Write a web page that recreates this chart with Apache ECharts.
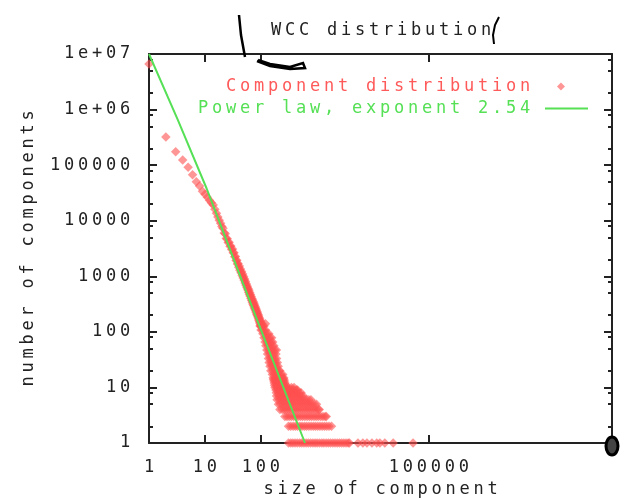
<!DOCTYPE html>
<html><head><meta charset="utf-8">
<script src="https://cdn.jsdelivr.net/npm/echarts@6/dist/echarts.min.js"></script>
<style>html,body{margin:0;padding:0;background:#fff}#c{width:626px;height:498px}</style>
</head><body><div id="c"></div>
<script>
// ---- data ----
// counts for component sizes 1..100 (index = size - 1)
const headCounts = [
  6600000, 320000, 175000, 124000, 92000, 67000, 50000, 42000, 34000, 30000,
  26400, 23400, 21000, 19100, 16000, 13600, 11700, 10200, 9000, 7900,
  7300, 6000, 5800, 4800, 4750, 4050, 4080, 3480, 3520, 3020,
  3090, 2640, 2650, 2250, 2260, 1930, 1950, 1660, 1700, 1450,
  1530, 1290, 1350, 1160, 1220, 1030, 1100, 935, 990, 845,
  895, 755, 805, 690, 730, 630, 665, 570, 605, 515,
  560, 470, 512, 437, 470, 398, 435, 368, 400, 338,
  374, 314, 348, 294, 326, 272, 304, 257, 284, 239,
  265, 224, 247, 208, 232, 196, 218, 186, 206, 172,
  192, 160, 180, 151, 170, 142, 160, 133, 151, 125
];
// larger components: each count level with the sizes seen at that level
const rowCounts = [1, 2, 3, 4, 5, 6, 7, 8, 9, 10, 11, 12, 13, 14, 15, 17, 20, 24, 28, 33, 40, 47, 56, 66, 78, 92, 108, 127, 140];
const rowSizes = [
  [310, 340, 370, 405, 445, 490, 535, 585, 640, 700, 770, 845, 925, 1010, 1110, 1220, 1330, 1460, 1600, 1750, 1920, 2100, 2300, 2520, 2760, 3020, 3300, 3600, 3800, 5400, 6600, 7800, 9600, 11700, 13300, 16300, 23000, 52000],
  [310, 340, 375, 410, 450, 495, 540, 595, 650, 715, 785, 860, 940, 1030, 1130, 1240, 1360, 1490, 1640, 1820],
  [267, 292, 320, 350, 385, 420, 460, 505, 555, 610, 670, 735, 805, 885, 970, 1060, 1170, 1280, 1400, 1470],
  [218, 240, 262, 288, 315, 345, 380, 415, 455, 500, 550, 605, 665, 730, 800, 880, 965, 1060, 1100],
  [205, 225, 247, 271, 297, 326, 358, 393, 431, 473, 520, 570, 625, 686, 753, 826, 906, 980],
  [194, 213, 234, 257, 282, 310, 340, 373, 410, 450, 494, 542, 595, 653, 717, 780],
  [190, 209, 229, 252, 276, 303, 333, 365, 401, 440, 483, 530, 570],
  [188, 206, 226, 248, 272, 299, 328, 360, 395, 434, 476, 520],
  [185, 203, 223, 245, 269, 295, 324, 356, 390, 428, 450],
  [178, 195, 214, 235, 258, 282, 310, 350, 390],
  [175, 192, 211, 232, 255, 275],
  [172, 189, 207, 227, 250, 268],
  [170, 186, 204, 224, 246, 262],
  [167, 183, 201, 220, 240, 258],
  [165, 180, 198, 216, 236, 255],
  [160, 175, 192, 210, 228, 245],
  [150, 163, 178, 194, 210, 217],
  [145, 158, 172, 187, 203],
  [140, 152, 165, 180, 196],
  [136, 148, 161, 175, 190],
  [131, 143, 156, 170, 185],
  [127, 138, 150, 163, 177, 189],
  [122, 133, 145, 158, 170],
  [118, 128, 140, 152, 162],
  [113, 123, 134, 145, 155],
  [108, 118, 128, 138],
  [100, 106, 113, 120],
  [96, 101, 107, 113],
  [104, 120]
];
// fitted power-law line as drawn
const powerSizes  = [1, 3.3, 10.7, 36.8, 73, 611];
const powerCounts = [10000000, 640000, 38000, 1480, 246, 1];

const xTickValues = [1, 10, 100, 100000];
const xTickLabels = ['1', '10', '100', '100000'];
const yTickValues = [1, 10, 100, 1000, 10000, 100000, 1000000, 10000000];
const yTickLabels = ['1', '10', '100', '1000', '10000', '100000', '1e+06', '1e+07'];
const yMinorTickValues = [2,5,8,20,50,80,200,500,800,2000,5000,8000,20000,50000,80000,200000,500000,800000,2000000,5000000,8000000];

const titleText = 'WCC distribution';
const xName = 'size of component';
const yName = 'number of components';
const seriesNames = ['Component distribution', 'Power law, exponent 2.54'];

// ---- styling helpers ----
const FONT = 'DejaVu Sans Mono';
const CELL = 14;
function cell(color) {
  return { width: CELL, align: 'center', fontFamily: FONT, fontSize: 17, fontWeight: 'normal', lineHeight: 17, color: color };
}
function mono(str, st) {
  return str.split('').map(ch => '{' + st + '|' + (ch === ' ' ? '\u00a0' : ch) + '}').join('');
}
const INK = '#222';
const RED = '#ff5050';
const GREEN = '#55e055';
const richBlack = { a: cell(INK) };

let scatterData = headCounts.map((c, i) => [i + 1, c]);
rowCounts.forEach((c, k) => { rowSizes[k].forEach(s => scatterData.push([s, c])); });
const lineData = powerSizes.map((s, i) => [s, powerCounts[i]]);

const axisLineStyle = { color: INK, width: 2 };
function xAx(pos, withLabels) {
  return {
    type: 'log', logBase: 10, min: 1, max: 186000000, position: pos,
    axisLine: { show: true, onZero: false, lineStyle: axisLineStyle },
    axisTick: { show: true, inside: true, length: 8, customValues: xTickValues, lineStyle: { color: INK, width: 2 } },
    axisLabel: withLabels ? {
      show: true, customValues: xTickValues, margin: 16,
      formatter: v => mono(xTickLabels[xTickValues.indexOf(v)] || '', 'a'), rich: richBlack
    } : { show: false },
    splitLine: { show: false }, minorTick: { show: false },
    name: withLabels ? mono(xName, 'a') : '', nameLocation: 'middle', nameGap: 37,
    nameTextStyle: { rich: richBlack }
  };
}
function yAx(pos, minor, withLabels) {
  return {
    type: 'log', logBase: 10, min: 1, max: 10000000, position: pos,
    axisLine: { show: !minor, onZero: false, lineStyle: axisLineStyle },
    axisTick: { show: true, inside: true, length: minor ? 4 : 8,
      customValues: minor ? yMinorTickValues : yTickValues, lineStyle: { color: INK, width: 2 } },
    axisLabel: withLabels ? {
      show: true, customValues: yTickValues, margin: 17,
      formatter: v => {
        let k = -1;
        yTickValues.forEach((t, i) => { if (Math.abs(Math.log10(t) - Math.log10(v)) < 1e-6) k = i; });
        return mono(k >= 0 ? yTickLabels[k] : '', 'a');
      }, rich: richBlack
    } : { show: false },
    splitLine: { show: false }, minorTick: { show: false },
    name: withLabels ? mono(yName, 'a') : '', nameLocation: 'middle', nameGap: 107,
    nameTextStyle: { rich: richBlack }
  };
}

const chart = echarts.init(document.getElementById('c'), null, { renderer: 'canvas' });
chart.setOption({
  animation: false,
  backgroundColor: '#fff',
  title: {
    text: mono(titleText, 't'), left: 269, top: 22, padding: 0,
    textStyle: { fontWeight: 'normal', rich: { t: cell(INK) } }
  },
  legend: {
    orient: 'vertical', align: 'right', right: 38, top: 78, padding: 0,
    itemGap: 5, itemWidth: 43, itemHeight: 8,
    data: [
      { name: seriesNames[0], icon: 'path://M4,0L8,4L4,8L0,4Z M19,4L19.01,4.01' },
      { name: seriesNames[1], icon: 'path://M0,0L43,0L43,2L0,2Z' }
    ],
    formatter: name => mono(name, name === seriesNames[0] ? 'r' : 'g') + '{sp|\u00a0}',
    textStyle: { rich: { r: cell('#ff5a5a'), g: cell(GREEN), sp: { width: 8 } } }
  },
  grid: { left: 149, right: 14, top: 54, bottom: 55, containLabel: false, outerBoundsMode: 'none' },
  xAxis: [xAx('bottom', true), xAx('top', false)],
  yAxis: [yAx('left', false, true), yAx('right', false, false), yAx('left', true, false), yAx('right', true, false)],
  series: [
    {
      name: seriesNames[0], type: 'scatter', xAxisIndex: 0, yAxisIndex: 0,
      symbol: 'diamond', symbolSize: 9.5, clip: false,
      itemStyle: { color: RED, opacity: 0.6 },
      data: scatterData, z: 3
    },
    {
      name: seriesNames[1], type: 'line', xAxisIndex: 0, yAxisIndex: 0,
      symbol: 'none', showSymbol: false, clip: false,
      lineStyle: { color: GREEN, width: 2 }, itemStyle: { color: GREEN },
      data: lineData, z: 4
    }
  ],
  graphic: [
    { type: 'polyline', shape: { points: [[239, 15], [241, 35], [245, 57]] }, style: { stroke: '#000', lineWidth: 2.5, fill: null }, z: 100 },
    { type: 'polyline', shape: { points: [[257, 61], [270, 66], [290, 69], [305, 68], [303, 63], [290, 67], [270, 64], [258, 60]] }, style: { stroke: '#000', lineWidth: 2.5, fill: null }, z: 100 },
    { type: 'polyline', shape: { points: [[499, 17], [495, 25], [493, 35], [494, 44]] }, style: { stroke: '#000', lineWidth: 2, fill: null }, z: 100 },
    { type: 'ellipse', shape: { cx: 612, cy: 446, rx: 6, ry: 9 }, style: { stroke: '#000', lineWidth: 3, fill: '#444' }, z: 100 }
  ]
});
</script></body></html>
